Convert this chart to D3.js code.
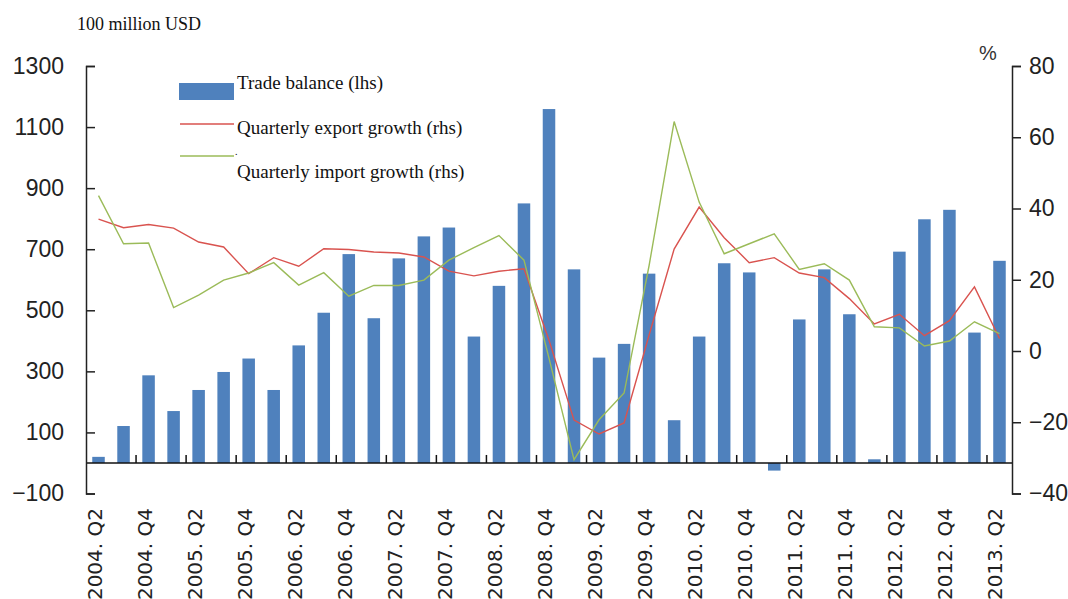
<!DOCTYPE html>
<html>
<head>
<meta charset="utf-8">
<script src="https://cdn.jsdelivr.net/npm/d3@7"></script>
<style>
  body { margin: 0; background: #fff; }
  svg { display: block; }
</style>
</head>
<body>
<div id="chart"></div>
<script>
"use strict";

// quarters, trade balance (100 million USD) and growth rates (%)
var quarters = ["2004. Q2","2004. Q3","2004. Q4","2005. Q1","2005. Q2","2005. Q3","2005. Q4","2006. Q1",
  "2006. Q2","2006. Q3","2006. Q4","2007. Q1","2007. Q2","2007. Q3","2007. Q4","2008. Q1",
  "2008. Q2","2008. Q3","2008. Q4","2009. Q1","2009. Q2","2009. Q3","2009. Q4","2010. Q1",
  "2010. Q2","2010. Q3","2010. Q4","2011. Q1","2011. Q2","2011. Q3","2011. Q4","2012. Q1",
  "2012. Q2","2012. Q3","2012. Q4","2013. Q1","2013. Q2"];
var balance = [20,121,287,170,239,298,342,239,385,492,684,474,670,742,771,414,580,850,1159,634,
  345,390,620,140,414,654,624,-25,470,634,487,12,692,798,829,427,662];
var exportGrowth = [37,34.6,35.5,34.5,30.6,29.2,21.7,26.2,23.8,28.7,28.5,27.8,27.5,26.4,22.4,21.1,
  22.4,23.1,3,-19.4,-23.3,-20.2,4.5,28.6,40.4,31.8,24.8,26.2,21.9,20.6,14.7,7.6,10.3,4.3,8.5,18,3.5];
var importGrowth = [43.6,30.1,30.3,12.2,15.7,19.9,21.9,24.8,18.5,22,15.4,18.4,18.4,19.9,25.5,29,
  32.4,25.5,-2,-30.5,-19.3,-11.8,24,64.4,41.8,27.3,30.1,32.9,22.9,24.5,19.9,6.8,6.5,1.4,2.8,8.2,4.9];
var leftTicks = [-100,100,300,500,700,900,1100,1300];
var rightTicks = [-40,-20,0,20,40,60,80];

var width = 1068, height = 599;
var plotLeft = 86, plotRight = 1012, plotTop = 66, plotBottom = 493.5;

var svg = d3.select('#chart').append('svg')
  .attr('width', width)
  .attr('height', height);

var x = d3.scaleBand().domain(quarters).range([plotLeft, plotRight])
  .paddingInner(0.5).paddingOuter(0.25);
var yL = d3.scaleLinear().domain([-100, 1300]).range([plotBottom, plotTop]);
var yR = d3.scaleLinear().domain([-40, 80]).range([plotBottom, plotTop]);
var cx = function(q) { return x(q) + x.bandwidth() / 2; };

// bars
svg.append('g').selectAll('rect')
  .data(balance).enter()
  .append('rect')
  .attr('x', function(d, i) { return x(quarters[i]); })
  .attr('width', x.bandwidth())
  .attr('y', function(d) { return yL(Math.max(d, 0)); })
  .attr('height', function(d) { return Math.abs(yL(d) - yL(0)); })
  .attr('fill', '#4f81bd');

// x axis line + ticks every two quarters
var y0 = yL(0);
svg.append('line')
  .attr('x1', plotLeft).attr('x2', plotRight)
  .attr('y1', y0).attr('y2', y0)
  .attr('stroke', '#111').attr('stroke-width', 1.5);
var gap = x.step() - x.bandwidth();
svg.append('g').selectAll('line')
  .data(quarters.filter(function(q, i) { return i > 0 && i % 2 === 0; })).enter()
  .append('line')
  .attr('x1', function(q) { return x(q) - gap / 2; })
  .attr('x2', function(q) { return x(q) - gap / 2; })
  .attr('y1', y0).attr('y2', y0 - 8)
  .attr('stroke', '#111').attr('stroke-width', 1.5);

// labels run off the bottom edge, as in the original
svg.append('g').selectAll('text')
  .data(quarters.filter(function(q, i) { return i % 2 === 0; })).enter()
  .append('text')
  .attr('transform', function(q) { return 'translate(' + (cx(q) + 3) + ',508) rotate(-90)'; })
  .attr('text-anchor', 'end')
  .style('font-family', '"DejaVu Sans", sans-serif')
  .style('font-size', '20px')
  .attr('fill', '#222')
  .text(function(q) { return q; });

// lines
var lineR = d3.line()
  .x(function(d, i) { return cx(quarters[i]); })
  .y(function(d) { return yR(d); });
svg.append('path').datum(exportGrowth)
  .attr('d', lineR).attr('fill', 'none')
  .attr('stroke', '#d9534f').attr('stroke-width', 1.4);
svg.append('path').datum(importGrowth)
  .attr('d', lineR).attr('fill', 'none')
  .attr('stroke', '#9bbb59').attr('stroke-width', 1.4);

// y axes
var fmt = d3.format('d');
var axL = svg.append('g')
  .attr('transform', 'translate(' + plotLeft + ',0)')
  .call(d3.axisLeft(yL).tickValues(leftTicks).tickFormat(fmt)
    .tickSize(-9).tickSizeOuter(-9).tickPadding(22));
var axR = svg.append('g')
  .attr('transform', 'translate(' + plotRight + ',0)')
  .call(d3.axisRight(yR).tickValues(rightTicks).tickFormat(fmt)
    .tickSize(9).tickSizeOuter(9).tickPadding(8));
[axL, axR].forEach(function(ax) {
  ax.selectAll('path, line').attr('stroke', '#222').attr('stroke-width', 1.5);
  ax.selectAll('text')
    .style('font-family', '"Liberation Sans", Arial, sans-serif')
    .style('font-size', '23px')
    .attr('fill', '#222');
});

// titles
svg.append('text')
  .attr('x', 77).attr('y', 30)
  .style('font-family', '"Liberation Serif", serif')
  .style('font-size', '18px')
  .attr('fill', '#111')
  .text('100 million USD');
svg.append('text')
  .attr('x', 988).attr('y', 60)
  .attr('text-anchor', 'middle')
  .style('font-family', '"Liberation Sans", Arial, sans-serif')
  .style('font-size', '20px')
  .attr('fill', '#333')
  .text('%');

// legend
var legend = svg.append('g')
  .style('font-family', '"Liberation Serif", serif')
  .style('font-size', '19px');
legend.append('rect')
  .attr('x', 179).attr('y', 83).attr('width', 55).attr('height', 17)
  .attr('fill', '#4f81bd');
legend.append('line')
  .attr('x1', 180).attr('x2', 234).attr('y1', 124).attr('y2', 124)
  .attr('stroke', '#d9534f').attr('stroke-width', 1.4);
legend.append('line')
  .attr('x1', 180).attr('x2', 234).attr('y1', 156).attr('y2', 156)
  .attr('stroke', '#9bbb59').attr('stroke-width', 1.4);
legend.append('text').attr('x', 235).attr('y', 155).style('font-size', '10px').text('.');
legend.append('text').attr('x', 237).attr('y', 89).attr('fill', '#111').text('Trade balance (lhs)');
legend.append('text').attr('x', 237).attr('y', 133.5).attr('fill', '#111').text('Quarterly export growth (rhs)');
legend.append('text').attr('x', 237).attr('y', 178).attr('fill', '#111').text('Quarterly import growth (rhs)');
</script>
</body>
</html>
